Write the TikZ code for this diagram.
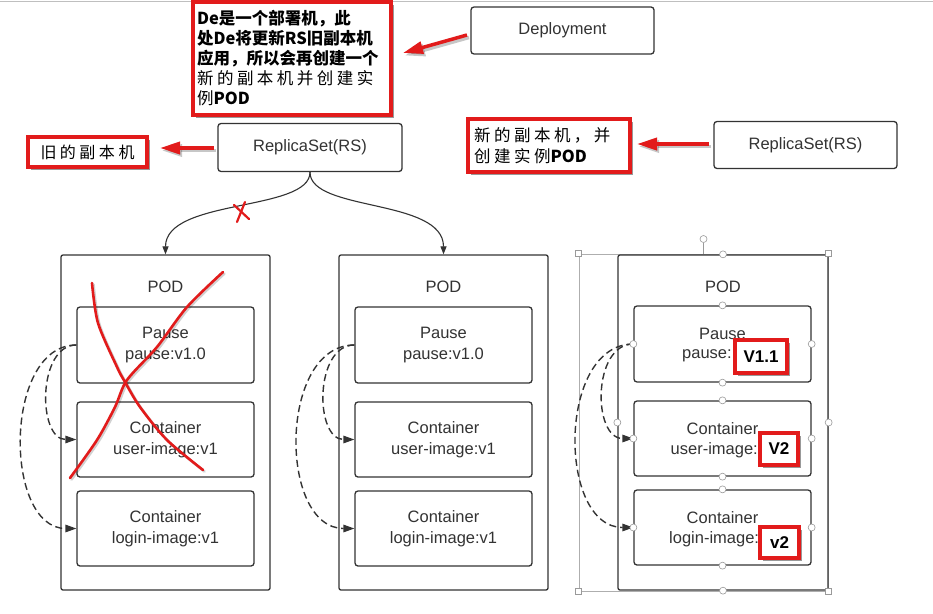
\documentclass[tikz,border=0pt]{standalone}
\usepackage{fontspec}
\setmainfont{Liberation Sans}
\newfontfamily\cjk{Noto Sans CJK SC}
\usetikzlibrary{arrows.meta,shadows,calc}
\definecolor{rd}{HTML}{E21B1B}
\definecolor{ink}{HTML}{333333}
\definecolor{handle}{HTML}{9A9A9A}
\newcommand{\ksp}{\kern3.5pt}
\begin{document}
\begin{tikzpicture}[x=1pt,y=-1pt,
  box/.style={draw=ink, line width=1.3pt, rounded corners=3pt, fill=white, text=ink,
    font=\fontsize{16.5}{21}\selectfont, align=center, inner sep=0pt},
  pod/.style={box, rounded corners=2pt, minimum width=209, minimum height=335},
  inner/.style={box, minimum width=177, minimum height=75},
  txt/.style={text=ink, font=\fontsize{16.5}{21}\selectfont, inner sep=0pt},
  redbox/.style={draw=rd, line width=3.3pt, fill=white, inner sep=0pt,
    drop shadow={shadow xshift=3pt, shadow yshift=-3pt, opacity=0.4, fill=black}},
  redarrow/.style={draw=rd, line width=3.5pt, -{Triangle[length=20pt,width=12pt]}},
  redshadow/.style={draw=black, opacity=0.22, line width=3.5pt, -{Triangle[length=20pt,width=12pt]},
    transform canvas={shift={(2pt,-2.5pt)}}},
  tree/.style={draw=ink, line width=1.1pt, -{Triangle[length=8pt,width=6pt]}},
  dashlink/.style={draw=ink, line width=1.4pt, dash pattern=on 7pt off 4pt, -{Triangle[length=11pt,width=7.5pt]}},
  hcirc/.style={circle, draw=handle, fill=white, line width=0.6pt, minimum size=7pt, inner sep=0pt},
  hsq/.style={rectangle, draw=handle, fill=white, line width=0.6pt, minimum size=6pt, inner sep=0pt},
  vlabel/.style={redbox, text=black, font=\bfseries\fontsize{17}{17}\selectfont},
  xstroke/.style={draw=rd, line width=2.6pt, line cap=round, line join=round},
]
\useasboundingbox (0,0) rectangle (933,613);
\fill[white] (0,0) rectangle (933,613);
\coordinate (tl) at (0,1);
\coordinate (tr) at (933,1);
\draw[black!25, line width=1pt] (tl) -- (tr);

% ---------- top row ----------
\node[box, minimum width=183, minimum height=47] (dep) at (562.5,30.5) {Deployment};
\node[box, minimum width=184, minimum height=48] (rs1) at (310,147.5) {ReplicaSet(RS)};
\node[box, minimum width=183, minimum height=47] (rs2) at (805.5,145) {ReplicaSet(RS)};

\node[redbox, minimum width=198, minimum height=113, text width=190, align=left, inner xsep=4pt,
  font=\cjk\fontsize{16.5}{20}\selectfont] (note1) at (292,58.5)
  {{\bfseries De是一个部署机，此}\\
   {\bfseries 处De将更新RS旧副本机}\\
   {\bfseries 应用，所以会再创建一个}\\
   新\ksp 的\ksp 副\ksp 本\ksp 机\ksp 并\ksp 创\ksp 建\ksp 实\\
   例{\bfseries POD}};
\node[redbox, minimum width=119, minimum height=30, font=\cjk\fontsize{16}{20}\selectfont] (note2) at (87.5,152)
  {旧\ksp 的\ksp 副\ksp 本\ksp 机};
\node[redbox, minimum width=162, minimum height=53, text width=150, align=left,
  font=\cjk\fontsize{16.5}{21}\selectfont] (note3) at (549,145.5)
  {新\ksp 的\ksp 副\ksp 本\ksp 机\ksp ，\ksp 并\\
   创\ksp 建\ksp 实\ksp 例{\bfseries POD}};

\coordinate (a1s) at (467,35);  \coordinate (a1e) at (403,53);
\coordinate (a2s) at (214,148); \coordinate (a2e) at (160,148);
\coordinate (a3s) at (709,144); \coordinate (a3e) at (637,144);
\draw[redshadow] (a1s) -- (a1e);
\draw[redshadow] (a2s) -- (a2e);
\draw[redshadow] (a3s) -- (a3e);
\draw[redarrow] (a1s) -- (a1e);
\draw[redarrow] (a2s) -- (a2e);
\draw[redarrow] (a3s) -- (a3e);

% ---------- selection frame of right pod ----------
\node[draw=handle!80, line width=0.6pt, minimum width=249, minimum height=337, inner sep=0pt] (sel) at (703.5,422.5) {};
\node[hcirc] (rot) at (703.5,239) {};
\draw[handle, line width=0.6pt] (rot) -- (sel.north);

% ---------- pods ----------
\node[pod] (p1) at (165.5,422.5) {};
\node[pod] (p2) at (443.5,422.5) {};
\node[pod, minimum width=210] (p3) at (723,422.5) {};
\node[txt] (t1) at (165.5,287) {POD};
\node[txt] (t2) at (443.5,287) {POD};
\node[txt] (t3) at (723,287) {POD};

\node[inner, minimum height=76] (p1a) at (165.5,345) {Pause\\pause:v1.0};
\node[inner] (p1b) at (165.5,439.5) {Container\\user-image:v1};
\node[inner] (p1c) at (165.5,528.5) {Container\\login-image:v1};

\node[inner, minimum height=76] (p2a) at (443.5,345) {Pause\\pause:v1.0};
\node[inner] (p2b) at (443.5,439.5) {Container\\user-image:v1};
\node[inner] (p2c) at (443.5,528.5) {Container\\login-image:v1};

\node[inner, minimum height=76] (p3a) at (722.5,344) {};
\node[inner] (p3b) at (722.5,438.5) {};
\node[inner] (p3c) at (722.5,527.5) {};
\node[txt] (p3a1) at (722.5,334) {Pause};
\node[txt, anchor=west] (p3a2) at (682,356) {pause:};
\node[txt] (p3b1) at (722.5,429) {Container};
\node[txt, anchor=west] (p3b2) at (670.5,450) {user-image:};
\node[txt] (p3c1) at (722.5,518) {Container};
\node[txt, anchor=west] (p3c2) at (669,539) {login-image:};

\node[vlabel, minimum width=52, minimum height=33] (v1) at (761,356.5) {V1.1};
\node[vlabel, minimum width=38, minimum height=32] (v2) at (779,449) {V2};
\node[vlabel, minimum width=39, minimum height=31] (v3) at (779.5,542.5) {v2};

% ---------- tree connectors ----------
\draw[tree] (rs1.south) .. controls (310,212) and (165.5,198) .. (p1.north);
\draw[tree] (rs1.south) .. controls (310,212) and (443.5,198) .. (p2.north);
\coordinate (x1a) at (234,205); \coordinate (x1b) at (249,219);
\coordinate (x2a) at (245,202); \coordinate (x2b) at (237,222);
\draw[xstroke, line width=2.2pt] (x1a) -- (x1b);
\draw[xstroke, line width=2.2pt] (x2a) -- (x2b);

% ---------- dashed links ----------
\foreach \p/\di/\do in {p1/39/73, p2/40/76, p3/41/76}{
  \draw[dashlink] (\p a.west) .. controls ($(\p a.west)+(-\di,0)$) and ($(\p b.west)+(-\di,0)$) .. (\p b.west);
  \draw[dashlink] (\p a.west) .. controls ($(\p a.west)+(-\do,0)$) and ($(\p c.west)+(-\do,0)$) .. (\p c.west);
}

% ---------- handles on right pod ----------
\foreach \n in {north,south,east,west}{
  \node[hcirc] (h3\n) at (p3.\n) {};
  \node[hcirc] (ha\n) at (p3a.\n) {};
  \node[hcirc] (hb\n) at (p3b.\n) {};
  \node[hcirc] (hc\n) at (p3c.\n) {};
}
\foreach \n in {north west,north east,south west,south east}{
  \node[hsq] (s\n) at (sel.\n) {};
}

% ---------- big red cross on left pod ----------
\draw[xstroke, draw=black, opacity=0.18, transform canvas={shift={(1.5pt,-1.5pt)}}]
  plot[smooth] coordinates {(92,283) (98,323) (117,367) (125,382) (140,407) (167,440) (203,470)};
\draw[xstroke, draw=black, opacity=0.18, transform canvas={shift={(1.5pt,-1.5pt)}}]
  plot[smooth] coordinates {(223,272) (187,307) (157,347) (127,380) (115,407) (97,440) (70,478)};
\draw[xstroke] plot[smooth] coordinates {(92,283) (98,323) (117,367) (125,382) (140,407) (167,440) (203,470)};
\draw[xstroke] plot[smooth] coordinates {(223,272) (187,307) (157,347) (127,380) (115,407) (97,440) (70,478)};
\end{tikzpicture}
\end{document}
